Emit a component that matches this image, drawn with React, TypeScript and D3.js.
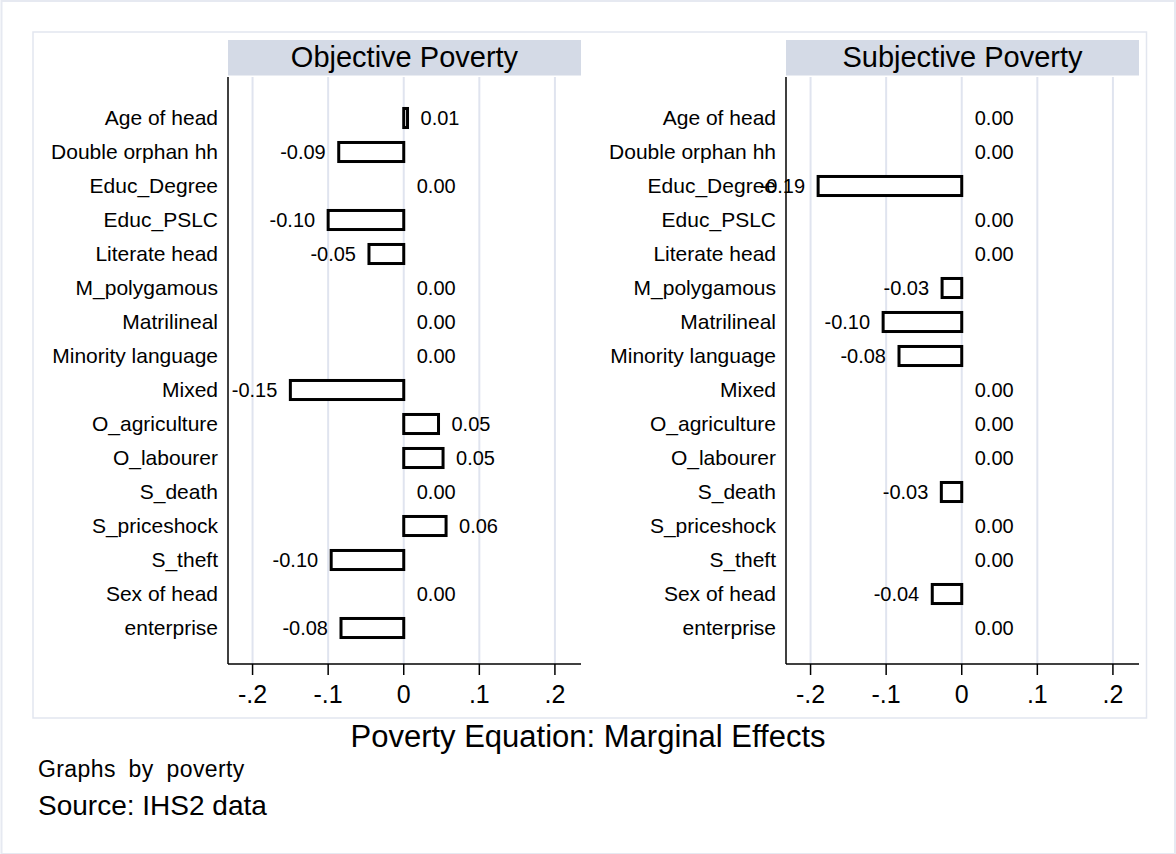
import React from "react";
import * as d3 from "d3";

const categories = [
  "Age of head",
  "Double orphan hh",
  "Educ_Degree",
  "Educ_PSLC",
  "Literate head",
  "M_polygamous",
  "Matrilineal",
  "Minority language",
  "Mixed",
  "O_agriculture",
  "O_labourer",
  "S_death",
  "S_priceshock",
  "S_theft",
  "Sex of head",
  "enterprise",
];

const objectiveValues = [
  0.005, -0.086, 0, -0.1, -0.046, 0, 0, 0, -0.15, 0.046, 0.052, 0, 0.056, -0.096, 0, -0.083,
];

const subjectiveValues = [
  0, 0, -0.19, 0, 0, -0.026, -0.104, -0.083, 0, 0, 0, -0.027, 0, 0, -0.039, 0,
];

const panelTitles = ["Objective Poverty", "Subjective Poverty"];
const xTicks = [-0.2, -0.1, 0, 0.1, 0.2];
const chartTitle = "Poverty Equation: Marginal Effects";
const byNote = "Graphs by poverty";
const sourceNote = "Source: IHS2 data";

const W = 1176;
const H = 854;
const FONT = "'Liberation Sans', Arial, Helvetica, sans-serif";

const plotTop = 77;
const plotBottom = 664;
const headerTop = 40;
const headerBottom = 75.5;
const panelWidth = 353;
const panelX0 = [228, 786];
const xDomain: [number, number] = [-0.2325, 0.2345];

const yScale = d3
  .scaleBand<string>()
  .domain(categories)
  .range([101, 645])
  .paddingInner(0.44)
  .paddingOuter(0.22);

const locale = d3.formatLocale({
  decimal: ".",
  thousands: ",",
  grouping: [3],
  currency: ["", ""],
  minus: "-",
});
const tickFmt = (v: number) => (v === 0 ? "0" : locale.format(".1f")(v).replace("0.", "."));
const valFmt = locale.format(".2f");

function Panel({ idx, title, values }: { idx: number; title: string; values: number[] }) {
  const x0 = panelX0[idx];
  const x = d3.scaleLinear().domain(xDomain).range([x0, x0 + panelWidth]);
  const bw = yScale.bandwidth();
  return (
    <g>
      <rect x={x0} y={headerTop} width={panelWidth} height={headerBottom - headerTop} fill="#d4dae6" />
      <text
        x={x0 + panelWidth / 2}
        y={67}
        textAnchor="middle"
        fontSize={29}
        fontFamily={FONT}
        fill="#000"
      >
        {title}
      </text>
      {xTicks.map((t) => (
        <line
          key={"g" + t}
          x1={x(t)}
          x2={x(t)}
          y1={plotTop}
          y2={plotBottom}
          stroke="#e0e4ef"
          strokeWidth={2}
        />
      ))}
      {categories.map((c, i) => {
        const v = values[i];
        const yb = yScale(c)!;
        const xa = x(Math.min(0, v));
        const xb = x(Math.max(0, v));
        const yc = yb + bw / 2;
        const labelX = v < 0 ? xa - 13 : xb + 13;
        return (
          <g key={c}>
            <text
              x={x0 - 10}
              y={yc}
              dy="0.35em"
              textAnchor="end"
              fontSize={21}
              fontFamily={FONT}
              fill="#000"
            >
              {c}
            </text>
            {v !== 0 && (
              <rect
                x={xa}
                y={yb}
                width={Math.max(0.5, xb - xa)}
                height={bw}
                fill="#fff"
                stroke="#000"
                strokeWidth={3}
              />
            )}
            <text
              x={labelX}
              y={yc}
              dy="0.35em"
              textAnchor={v < 0 ? "end" : "start"}
              fontSize={20}
              fontFamily={FONT}
              fill="#000"
            >
              {valFmt(v)}
            </text>
          </g>
        );
      })}
      <line x1={x0} x2={x0} y1={plotTop} y2={plotBottom} stroke="#000" strokeWidth={1.5} />
      <line x1={x0} x2={x0 + panelWidth} y1={plotBottom} y2={plotBottom} stroke="#000" strokeWidth={1.5} />
      {xTicks.map((t) => (
        <g key={"t" + t}>
          <line x1={x(t)} x2={x(t)} y1={plotBottom} y2={plotBottom + 11} stroke="#000" strokeWidth={1.5} />
          <text
            x={x(t)}
            y={703}
            textAnchor="middle"
            fontSize={25}
            fontFamily={FONT}
            fill="#000"
          >
            {tickFmt(t)}
          </text>
        </g>
      ))}
    </g>
  );
}

export default function App() {
  return (
    <svg
      width={W}
      height={H}
      style={{ position: "absolute", left: 0, top: 0, background: "#fff" }}
    >
      <rect x={0} y={0} width={W} height={H} fill="#fff" />
      <rect x={1.5} y={1} width={W - 2.5} height={H - 1} fill="none" stroke="#e6e9f1" strokeWidth={2} />
      <rect x={33} y={32} width={1113.5} height={686} fill="none" stroke="#e2e6ef" strokeWidth={1.5} />
      <Panel idx={0} title={panelTitles[0]} values={objectiveValues} />
      <Panel idx={1} title={panelTitles[1]} values={subjectiveValues} />
      <text x={W / 2} y={747} textAnchor="middle" fontSize={31} fontFamily={FONT} fill="#000">
        {chartTitle}
      </text>
      <text x={38} y={777} fontSize={23} fontFamily={FONT} fill="#000" wordSpacing={6} letterSpacing={0.4}>
        {byNote}
      </text>
      <text x={38} y={815} fontSize={28} fontFamily={FONT} fill="#000">
        {sourceNote}
      </text>
    </svg>
  );
}
